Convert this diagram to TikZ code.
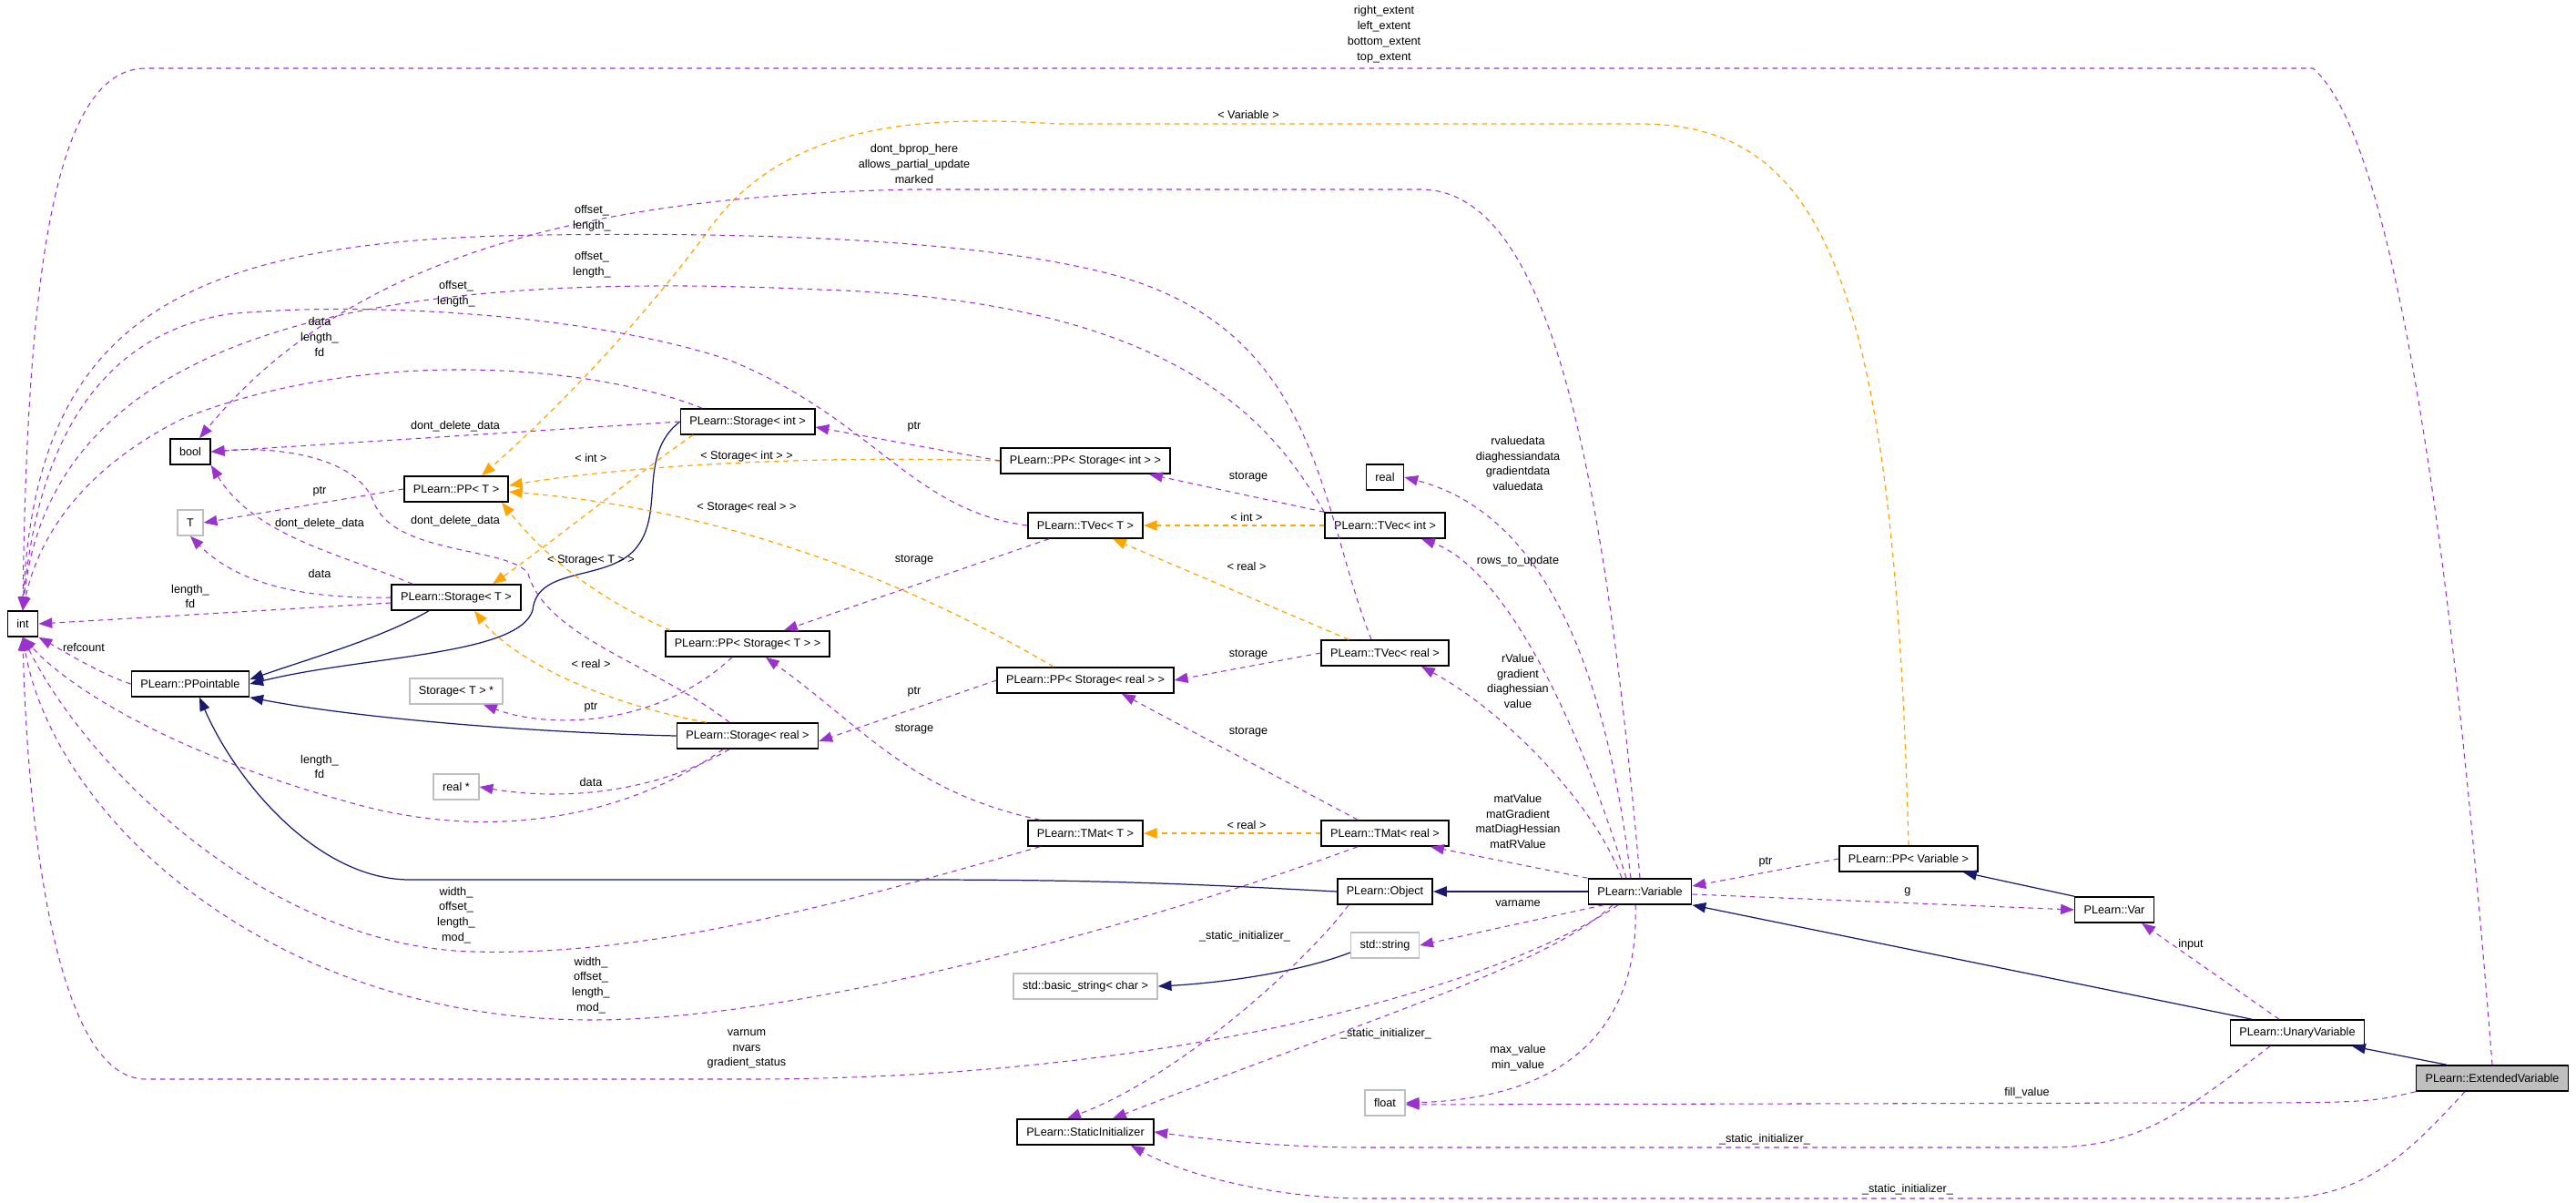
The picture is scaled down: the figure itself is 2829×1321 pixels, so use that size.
\documentclass[tikz,border=0pt]{standalone}
\usepackage{fontspec}
\setmainfont{Liberation Sans}
\usetikzlibrary{arrows.meta}
\definecolor{mem}{HTML}{9A32CD}
\definecolor{inh}{HTML}{191970}
\definecolor{tpl}{HTML}{FFA500}
\definecolor{gbox}{HTML}{BFBFBF}
\tikzset{
 cls/.style={draw=black,line width=0.45pt,inner xsep=0.1cm,inner ysep=0pt,minimum height=0.28cm,font=\fontsize{3.6}{4}\selectfont},
 ext/.style={cls,draw=gbox},
 lbl/.style={inner sep=0pt,align=center,font=\fontsize{3.6}{4.8}\selectfont},
 mm/.style={draw=mem,line width=0.3pt,dash pattern=on 1.6pt off 1.4pt,-{Triangle[length=4.2pt,width=3.2pt,fill=mem]}},
 ih/.style={draw=inh,line width=0.35pt,-{Triangle[length=4.2pt,width=3.2pt,fill=inh]}},
 tp/.style={draw=tpl,line width=0.35pt,dash pattern=on 1.6pt off 1.4pt,-{Triangle[length=4.2pt,width=3.2pt,fill=tpl]}}
}
\begin{document}
\begin{tikzpicture}[x=0.01cm,y=-0.01cm]
\useasboundingbox (0,0) rectangle (2829,1321);
% nodes
\node[cls] (int) at (25,685) {int};
\node[cls] (bool) at (209,496) {bool};
\node[cls] (PPT) at (501,537) {PLearn::PP< T >};
\node[ext] (T) at (209,574) {T};
\node[cls] (StInt) at (821,463) {PLearn::Storage< int >};
\node[cls] (StT) at (501,656) {PLearn::Storage< T >};
\node[cls] (PPointable) at (209,751) {PLearn::PPointable};
\node[ext] (StTptr) at (501,759) {Storage< T > *};
\node[cls] (PPStT) at (821,707) {PLearn::PP< Storage< T > >};
\node[cls] (StReal) at (821,808) {PLearn::Storage< real >};
\node[ext] (realptr) at (501,864) {real *};
\node[cls] (PPStInt) at (1192,506) {PLearn::PP< Storage< int > >};
\node[cls] (TVecT) at (1192,577) {PLearn::TVec< T >};
\node[cls] (TVecInt) at (1521,577) {PLearn::TVec< int >};
\node[cls] (real) at (1521,524) {real};
\node[cls] (TVecReal) at (1521,717) {PLearn::TVec< real >};
\node[cls] (PPStReal) at (1192,747) {PLearn::PP< Storage< real > >};
\node[cls] (TMatT) at (1192,915) {PLearn::TMat< T >};
\node[cls] (TMatReal) at (1521,915) {PLearn::TMat< real >};
\node[cls] (Object) at (1521,979) {PLearn::Object};
\node[cls] (Variable) at (1801,979) {PLearn::Variable};
\node[ext] (string) at (1521,1038) {std::string};
\node[ext] (basic) at (1192,1083) {std::basic\_string< char >};
\node[ext] (float) at (1521,1211) {float};
\node[cls] (SI) at (1192,1243) {PLearn::StaticInitializer};
\node[cls] (PPVar) at (2096,943) {PLearn::PP< Variable >};
\node[cls] (Var) at (2322,999) {PLearn::Var};
\node[cls] (Unary) at (2523,1134) {PLearn::UnaryVariable};
\node[cls,fill=gbox] (Ext) at (2737,1184) {PLearn::ExtendedVariable};
% inheritance
\draw[ih] (Object.west) .. controls (1300,970) and (1200,966) .. (1000,966) -- (450,966) .. controls (350,966) and (260,860) .. ([xshift=0.1cm]PPointable.south);
\draw[ih] ([xshift=-0.3cm]StT.south) .. controls (420,700) and (350,720) .. ([yshift=0.05cm]PPointable.east);
\draw[ih] (StInt.west) .. controls (700,500) and (730,560) .. (700,600) .. controls (670,640) and (590,620) .. (585,670) .. controls (570,720) and (400,720) .. (PPointable.east);
\draw[ih] (StReal.west) .. controls (600,805) and (400,790) .. (PPointable.south east);
\draw[ih] (Variable.west) -- (Object.east);
\draw[ih] ([yshift=-0.08cm]string.west) .. controls (1420,1070) and (1330,1080) .. (basic.east);
\draw[ih] ([xshift=-0.5cm]Unary.north) -- (Variable.south east);
\draw[ih] (Var.north west) -- ([xshift=0.6cm]PPVar.south);
\draw[ih] ([xshift=-0.5cm]Ext.north) -- ([xshift=0.6cm]Unary.south);
% templates
\draw[tp] (PPVar.north) .. controls (2080,300) and (2000,136) .. (1800,136) -- (1160,136) .. controls (1000,125) and (860,140) .. (780,250) .. controls (700,360) and (600,460) .. ([xshift=0.28cm]PPT.north);
\node[lbl] (l1) at (1371,126) {< Variable >};
\draw[tp] ([xshift=-0.6cm]StInt.south) .. controls (700,520) and (600,600) .. ([xshift=0.4cm]StT.north);
\node[lbl] (l2) at (649,503) {< int >};
\draw[tp] ([xshift=-0.45cm]StReal.north) .. controls (650,770) and (560,720) .. ([xshift=0.2cm]StT.south);
\node[lbl] (l3) at (649,729) {< real >};
\draw[tp] (PPStInt.west) .. controls (900,500) and (700,510) .. ([yshift=0.04cm]PPT.east);
\node[lbl] (l4) at (820,501) {< Storage< int > >};
\draw[tp] ([xshift=-0.35cm]PPStReal.north) .. controls (1000,640) and (800,560) .. ([yshift=-0.03cm]PPT.east);
\node[lbl] (l5) at (820,557) {< Storage< real > >};
\draw[tp] ([xshift=-0.85cm]PPStT.north) .. controls (640,650) and (590,600) .. ([xshift=0.5cm]PPT.south);
\node[lbl] (l6) at (649,615) {< Storage< T > >};
\draw[tp] (TVecInt.west) -- (TVecT.east);
\node[lbl] (l7) at (1369,568) {< int >};
\draw[tp] ([xshift=-0.4cm]TVecReal.north) -- ([xshift=0.3cm]TVecT.south);
\node[lbl] (l8) at (1369,622) {< real >};
\draw[tp] (TMatReal.west) -- (TMatT.east);
\node[lbl] (l9) at (1369,906) {< real >};
% members
\draw[mm] (Ext.north) .. controls (2700,700) and (2640,160) .. (2540,75) -- (160,75) .. controls (60,75) and (30,300) .. (int.north);
\node[lbl] (m1) at (1520,38) {right\_extent\\left\_extent\\bottom\_extent\\top\_extent};
\draw[mm] (Variable.north) .. controls (1760,500) and (1700,208) .. (1560,208) -- (1000,208) .. controls (700,215) and (400,260) .. ([xshift=0.1cm]bool.north);
\node[lbl] (m2) at (1004,180) {dont\_bprop\_here\\allows\_partial\_update\\marked};
\draw[mm] ([xshift=-0.15cm]TVecReal.north) .. controls (1450,560) and (1450,380) .. (1250,310) .. controls (1100,260) and (800,255) .. (600,258) .. controls (200,262) and (40,350) .. (int.north);
\node[lbl] (m3) at (650,240) {offset\_\\length\_};
\draw[mm] (TVecInt.north west) .. controls (1400,470) and (1300,330) .. (900,318) .. controls (500,300) and (60,330) .. (int.north);
\node[lbl] (m4) at (650,291) {offset\_\\length\_};
\draw[mm] (TVecT.west) .. controls (1000,560) and (960,460) .. (800,395) .. controls (650,345) and (400,330) .. (250,345) .. controls (100,370) and (40,500) .. (int.north);
\node[lbl] (m5) at (501,323) {offset\_\\length\_};
\draw[mm] ([xshift=-0.5cm]StInt.north) .. controls (650,400) and (400,380) .. (200,460) .. controls (80,520) and (40,600) .. (int.north);
\node[lbl] (m6) at (351,370) {data\\length\_\\fd};
\draw[mm] (StInt.west) -- (bool.east);
\node[lbl] (m7) at (500,468) {dont\_delete\_data};
\draw[mm] ([xshift=-0.48cm]StT.north) .. controls (380,610) and (280,590) .. (bool.south east);
\node[lbl] (m8) at (351,575) {dont\_delete\_data};
\draw[mm] ([xshift=-0.2cm]StReal.north) .. controls (720,730) and (600,700) .. (580,630) .. controls (560,600) and (430,610) .. (410,550) .. controls (390,500) and (300,490) .. (bool.east);
\node[lbl] (m9) at (500,572) {dont\_delete\_data};
\draw[mm] (PPT.west) -- (T.east);
\node[lbl] (m10) at (351,540) {ptr};
\draw[mm] (StT.west) .. controls (330,658) and (260,640) .. (T.south);
\node[lbl] (m11) at (351,630) {data};
\draw[mm] ([yshift=-0.06cm]StT.west) -- (int.east);
\node[lbl] (m12) at (209,655) {length\_\\fd};
\draw[mm] (PPointable.west) .. controls (110,740) and (70,715) .. (int.south east);
\node[lbl] (m13) at (92,711) {refcount};
\draw[mm] ([xshift=-0.27cm]StReal.south) .. controls (700,890) and (550,930) .. (380,880) .. controls (200,830) and (80,760) .. (int.south);
\node[lbl] (m14) at (351,842) {length\_\\fd};
\draw[mm] ([xshift=-0.2cm]StReal.south) .. controls (720,870) and (620,880) .. (realptr.east);
\node[lbl] (m15) at (649,859) {data};
\draw[mm] ([xshift=-0.17cm]PPStT.south) .. controls (720,800) and (600,800) .. ([xshift=0.3cm]StTptr.south);
\node[lbl] (m16) at (649,777) {ptr};
\draw[mm] (PPStInt.west) -- ([yshift=-0.06cm]StInt.east);
\node[lbl] (m17) at (1004,469) {ptr};
\draw[mm] (PPStReal.west) -- ([yshift=-0.06cm]StReal.east);
\node[lbl] (m18) at (1004,760) {ptr};
\draw[mm] ([xshift=-0.4cm]TVecT.south) -- ([xshift=0.4cm]PPStT.north);
\node[lbl] (m19) at (1004,615) {storage};
\draw[mm] ([xshift=-0.5cm]TMatT.north) .. controls (1000,870) and (950,800) .. ([xshift=0.2cm]PPStT.south);
\node[lbl] (m20) at (1004,801) {storage};
\draw[mm] (TVecInt.north west) -- ([xshift=0.7cm]PPStInt.south);
\node[lbl] (m21) at (1371,524) {storage};
\draw[mm] (TVecReal.west) -- (PPStReal.east);
\node[lbl] (m22) at (1371,719) {storage};
\draw[mm] ([xshift=-0.3cm]TMatReal.north) -- ([xshift=0.4cm]PPStReal.south);
\node[lbl] (m23) at (1371,804) {storage};
\draw[mm] ([xshift=-0.5cm]TMatT.south) .. controls (900,1000) and (700,1050) .. (520,1045) .. controls (300,1040) and (100,850) .. (int.south);
\node[lbl] (m24) at (501,1005) {width\_\\offset\_\\length\_\\mod\_};
\draw[mm] ([xshift=-0.3cm]TMatReal.south) .. controls (1300,1000) and (900,1120) .. (650,1120) .. controls (300,1120) and (60,900) .. (int.south);
\node[lbl] (m25) at (649,1082) {width\_\\offset\_\\length\_\\mod\_};
\draw[mm] ([xshift=-0.24cm]Variable.south) .. controls (1650,1080) and (1300,1185) .. (820,1185) -- (160,1185) .. controls (60,1185) and (30,900) .. (int.south);
\node[lbl] (m26) at (820,1152) {varnum\\nvars\\gradient\_status};
\draw[mm] ([xshift=-0.1cm]Variable.north) .. controls (1760,700) and (1680,560) .. (real.east);
\node[lbl] (m27) at (1667,509) {rvaluedata\\diaghessiandata\\gradientdata\\valuedata};
\draw[mm] ([xshift=-0.15cm]Variable.north) .. controls (1720,750) and (1640,620) .. ([xshift=0.4cm]TVecInt.south);
\node[lbl] (m28) at (1667,616) {rows\_to\_update};
\draw[mm] ([xshift=-0.2cm]Variable.north) .. controls (1750,880) and (1650,780) .. ([xshift=0.4cm]TVecReal.south);
\node[lbl] (m29) at (1667,748) {rValue\\gradient\\diaghessian\\value};
\draw[mm] (Variable.north west) -- ([xshift=0.5cm]TMatReal.south);
\node[lbl] (m30) at (1667,902) {matValue\\matGradient\\matDiagHessian\\matRValue};
\draw[mm] ([xshift=-0.4cm]Variable.south) -- (string.east);
\node[lbl] (m31) at (1667,992) {varname};
\draw[mm] ([xshift=-0.4cm]Object.south) .. controls (1440,1050) and (1300,1180) .. ([xshift=-0.2cm]SI.north);
\node[lbl] (m32) at (1367,1028) {\_static\_initializer\_};
\draw[mm] ([xshift=-0.3cm]Variable.south) .. controls (1700,1060) and (1500,1120) .. ([xshift=0.3cm]SI.north);
\node[lbl] (m33) at (1522,1135) {\_static\_initializer\_};
\draw[mm] ([xshift=-0.05cm]Variable.south) .. controls (1800,1100) and (1750,1205) .. (float.east);
\node[lbl] (m34) at (1667,1162) {max\_value\\min\_value};
\draw[mm] (PPVar.west) -- ([yshift=0.06cm]Variable.east);
\node[lbl] (m35) at (1939,947) {ptr};
\draw[mm] ([yshift=-0.03cm]Variable.east) -- (Var.west);
\node[lbl] (m36) at (2095,979) {g};
\draw[mm] ([xshift=-0.2cm]Unary.north) -- ([xshift=0.3cm]Var.south);
\node[lbl] (m37) at (2406,1037) {input};
\draw[mm] (Ext.south west) .. controls (2600,1211) .. (2400,1211) -- ([yshift=-0.02cm]float.east);
\node[lbl] (m38) at (2226,1200) {fill\_value};
\draw[mm] ([xshift=-0.3cm]Unary.south) .. controls (2400,1220) and (2350,1260) .. (2250,1260) -- (1500,1260) .. controls (1400,1260) and (1320,1250) .. (SI.east);
\node[lbl] (m39) at (1938,1251) {\_static\_initializer\_};
\draw[mm] ([xshift=-0.3cm]Ext.south) .. controls (2650,1260) and (2600,1316) .. (2500,1316) -- (1500,1316) .. controls (1400,1316) and (1300,1290) .. ([xshift=0.5cm]SI.south);
\node[lbl] (m40) at (2095,1306) {\_static\_initializer\_};
\end{tikzpicture}
\end{document}
